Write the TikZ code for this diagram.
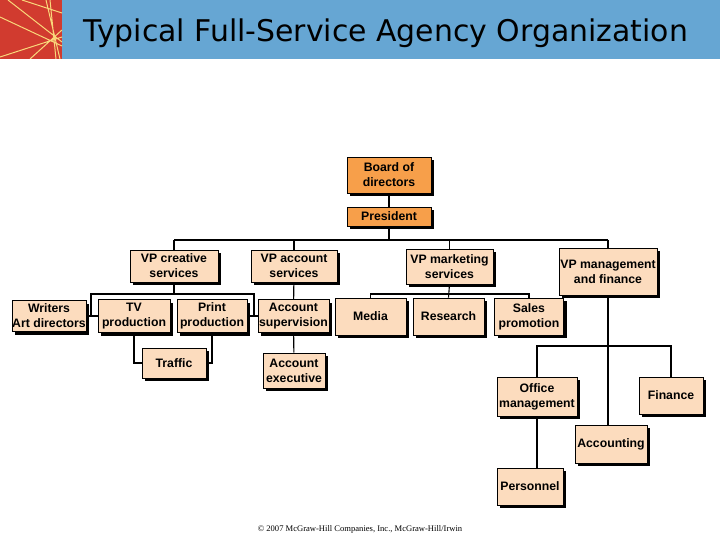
\documentclass[tikz,border=0pt]{standalone}
\usepackage{fontspec}
\setmainfont{Liberation Sans}
\newfontfamily\titlefont{DejaVu Sans}
\newfontfamily\notefont{Liberation Serif}
\usetikzlibrary{shadows}

\begin{document}
\begin{tikzpicture}[x=1bp,y=-1bp,
  unit/.style={draw=black,line width=0.8bp,fill=peach,align=center,inner sep=0pt,
    font=\bfseries\fontsize{12.3}{15}\selectfont,
    drop shadow={shadow xshift=3bp,shadow yshift=-3bp,fill=black,opacity=1}},
  chief/.style={unit,fill=boss},
  link/.style={line width=1.1bp}]
\definecolor{boss}{HTML}{F79F4A}
\definecolor{peach}{HTML}{FCDCBE}
\definecolor{bar}{HTML}{66A6D3}
\definecolor{brick}{HTML}{D13B2F}
\definecolor{streak}{HTML}{F9D87A}
\useasboundingbox (0,0) rectangle (720,540);
% header
\fill[bar] (62,0) rectangle (720,59);
\fill[brick] (0,0) rectangle (62,59);
\begin{scope}
\clip (0,0) rectangle (62,59);
\draw[streak,line width=1bp] (8,0) -- (62,42) (0,17) -- (62,46) (46,0) -- (60,59)
  (50,0) -- (56,59) (0,57) -- (62,37) (22,0) -- (62,13) (30,59) -- (62,30);
\end{scope}
\node[anchor=base west,font=\titlefont\fontsize{30}{36}\selectfont] (ttl) at (80,42) {Typical Full-Service Agency Organization};
% top of the chart
\node[chief,minimum width=84bp,minimum height=36bp] (brd) at (389,175) {Board of\\directors};
\node[chief,minimum width=84bp,minimum height=19bp] (pres) at (389,216.5) {President};
\node[unit,minimum width=88bp,minimum height=32bp] (cre) at (174,266) {VP creative\\services};
\node[unit,minimum width=86bp,minimum height=32bp] (acc) at (294,266) {VP account\\services};
\node[unit,minimum width=87bp,minimum height=35bp] (mkt) at (449.5,266.5) {VP marketing\\services};
\node[unit,minimum width=98bp,minimum height=47bp] (mgt) at (608,271.5) {VP management\\and finance};
% second level
\node[unit,minimum width=74bp,minimum height=31bp] (wri) at (49,316) {Writers\\Art directors};
\node[unit,minimum width=72bp,minimum height=33bp] (tv) at (134,316) {TV\\production};
\node[unit,minimum width=70bp,minimum height=33bp] (prt) at (212,316) {Print\\production};
\node[unit,minimum width=71bp,minimum height=33bp] (sup) at (293.5,316) {Account\\supervision};
\node[unit,minimum width=71bp,minimum height=37bp] (med) at (370.5,316.5) {Media};
\node[unit,minimum width=71bp,minimum height=37bp] (res) at (448.5,316.5) {Research};
\node[unit,minimum width=69bp,minimum height=37bp] (sal) at (529,316.5) {Sales\\promotion};
% lower levels
\node[unit,minimum width=64bp,minimum height=30bp] (trf) at (174,363) {Traffic};
\node[unit,minimum width=62bp,minimum height=35bp] (exe) at (294,370.5) {Account\\executive};
\node[unit,minimum width=80bp,minimum height=39bp] (off) at (537,396.5) {Office\\management};
\node[unit,minimum width=64bp,minimum height=37bp] (fin) at (671,395.5) {Finance};
\node[unit,minimum width=72bp,minimum height=38bp] (acg) at (611,444) {Accounting};
\node[unit,minimum width=66bp,minimum height=37bp] (per) at (530,486.5) {Personnel};
\node[font=\notefont\fontsize{8.6}{10}\selectfont] (cpy) at (360,529) {\textcopyright{} 2007 McGraw-Hill Companies, Inc., McGraw-Hill/Irwin};
% connectors
\coordinate (lv1) at (0,240);
\coordinate (lv2) at (0,294);
\coordinate (lv3) at (0,346);
\coordinate (cl) at (91,294);
\coordinate (cr) at (254,294);
\draw[link] (brd) -- (pres);
\draw[link] (pres.south) -- (pres.south |- lv1);
\draw[link] (cre.north |- lv1) -- (mgt.north |- lv1);
\foreach \n in {cre,acc,mkt,mgt}
  \draw[link] (\n.north |- lv1) -- (\n.north);
\draw[link] (cre.south) -- (cre.south |- cl);
\draw[link] (cl |- wri.east) -- (cl) -- (cr) -- (cr |- prt.east);
\draw[link] (wri.east) -- (tv.west);
\draw[link] (prt.east) -- (sup.west);
\draw[link] (tv.south) |- (trf.west);
\draw[link] (prt.south) |- (trf.east);
\draw[link] (acc) -- (sup);
\draw[link] (sup) -- (exe);
\draw[link] (mkt.south) -- (res.north);
\draw[link] (med.north) |- (sal.north |- lv2) -- (sal.north);
\draw[link] (mgt.south) -- (mgt.south |- acg.north);
\draw[link] (off.north) |- (fin.north |- lv3) -- (fin.north);
\draw[link] (off.south) -- (off.south |- per.north);
\end{tikzpicture}
\end{document}
